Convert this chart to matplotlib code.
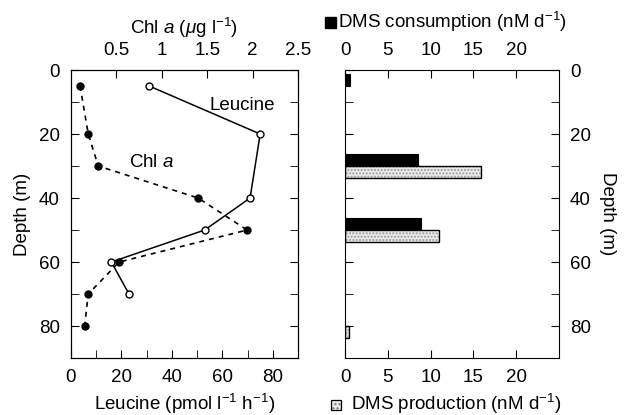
import numpy as np
import matplotlib
matplotlib.use('Agg')
import matplotlib.pyplot as plt
from matplotlib.ticker import MultipleLocator
from matplotlib.patches import Rectangle

plt.rcParams['font.family'] = ['Liberation Sans', 'DejaVu Sans']
plt.rcParams['mathtext.fontset'] = 'custom'
plt.rcParams['mathtext.rm'] = 'Liberation Sans'
plt.rcParams['mathtext.it'] = 'Liberation Sans:italic'
plt.rcParams['font.size'] = 13.5

# Left panel: leucine incorporation and chlorophyll a profiles
leu_depth = [5, 20, 40, 50, 60, 70]
leucine = [31, 75, 71, 53, 16, 23]
chl_depth = [5, 20, 30, 40, 50, 60, 70, 80]
chl = [0.1, 0.19, 0.3, 1.4, 1.94, 0.53, 0.19, 0.15]

# Right panel: DMS consumption / production
cons_depth = np.array([5, 30, 50])
consumption = [0.6, 8.5, 8.9]
prod_depth = np.array([30, 50, 80])
production = [15.9, 11.0, 0.5]

fig = plt.figure(figsize=(6.25, 4.15), dpi=100)
ax = fig.add_axes([0.1136, 0.1373, 0.3632, 0.694])
ax2 = ax.twiny()

ax2.plot(chl, chl_depth, color='black', lw=1.2, ls=(0, (3, 3)),
         marker='o', ms=5, mfc='black', mec='black', zorder=3)
ax.plot(leucine, leu_depth, color='black', lw=1.1, marker='o', ms=5,
        mfc='white', mec='black', zorder=4)

ax.set_xlim(0, 90)
ax2.set_xlim(0, 2.5)
ax.set_ylim(90, 0)
ax.xaxis.set_major_locator(MultipleLocator(20))
ax.xaxis.set_minor_locator(MultipleLocator(10))
ax.yaxis.set_minor_locator(MultipleLocator(10))
ax.set_yticks([0, 20, 40, 60, 80])
ax2.set_xticks([0.5, 1, 1.5, 2, 2.5])
ax2.set_xticklabels(['0.5', '1', '1.5', '2', '2.5'])

ax.tick_params(which='both', direction='in', length=6, right=True, top=False,
               pad=8)
ax2.tick_params(which='both', direction='in', length=6, pad=8)
ax.set_xlabel('Leucine (pmol l$^{-1}$ h$^{-1}$)', labelpad=4)
ax.set_ylabel('Depth (m)', labelpad=6)
ax2.set_xlabel(r'Chl $\it{a}$ ($\mu$g l$^{-1}$)', labelpad=6)

ax.text(68, 11, 'Leucine', ha='center', va='center')
ax.text(32, 29, r'Chl $\it{a}$', ha='center', va='center')

# Right panel
bx = fig.add_axes([0.552, 0.1373, 0.3424, 0.694])
h = 3.8
bx.barh(cons_depth - h, consumption, height=h, align='edge',
        color='black', edgecolor='black', lw=0.8)
bx.barh(prod_depth, production, height=h, align='edge',
        color='#ebebeb', edgecolor='#999999', hatch='.....', lw=0)
bx.barh(prod_depth, production, height=h, align='edge',
        facecolor='none', edgecolor='black', lw=1.0)

bx.set_xlim(0, 25)
bx.set_ylim(90, 0)
bx.set_xticks([0, 5, 10, 15, 20])
bx.set_yticks([0, 20, 40, 60, 80])
bx.yaxis.set_minor_locator(MultipleLocator(10))
bx.tick_params(which='both', direction='in', length=6, top=True, labeltop=True,
               left=True, right=True, labelleft=False, labelright=True, pad=8)
bx.yaxis.set_label_position('right')
bx.set_ylabel('Depth (m)', rotation=270, labelpad=18)

# legend-like header and footer with their swatches
fig.add_artist(Rectangle((325 / 625, 1 - 28 / 415), 11 / 625, 11 / 415,
                         transform=fig.transFigure, facecolor='black',
                         edgecolor='black'))
fig.text(338 / 625, 1 - 22 / 415, 'DMS consumption (nM d$^{-1}$)',
         ha='left', va='center')
fig.add_artist(Rectangle((331 / 625, 1 - 410 / 415), 10 / 625, 10 / 415,
                         transform=fig.transFigure, facecolor='#e8e8e8',
                         edgecolor='#777777', hatch='....', lw=0))
fig.add_artist(Rectangle((331 / 625, 1 - 410 / 415), 10 / 625, 10 / 415,
                         transform=fig.transFigure, facecolor='none',
                         edgecolor='black', lw=0.9))
fig.text(351 / 625, 1 - 404 / 415, 'DMS production (nM d$^{-1}$)',
         ha='left', va='center')

fig.savefig('out.png', dpi=100)
